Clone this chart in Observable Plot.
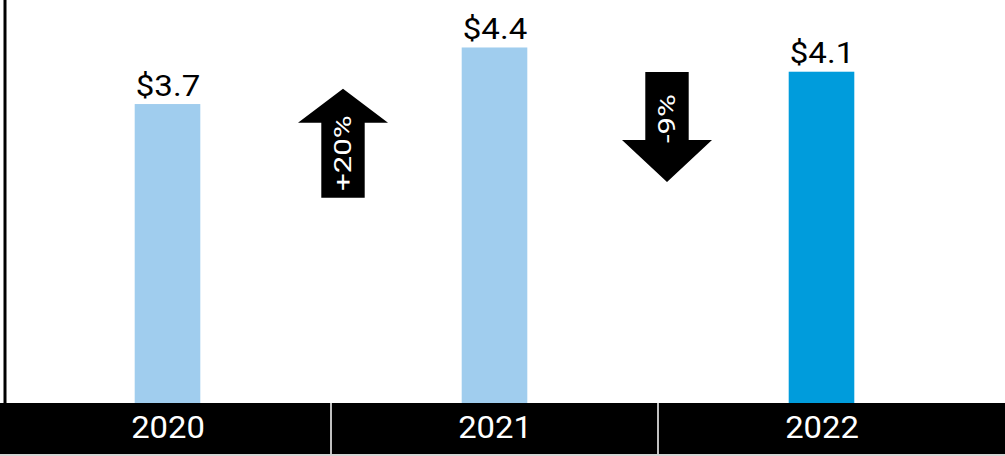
<!DOCTYPE html>
<html>
<head>
<meta charset="utf-8">
<script src="https://cdn.jsdelivr.net/npm/d3@7"></script>
<script src="https://cdn.jsdelivr.net/npm/@observablehq/plot@0.6"></script>
<style>
  html, body { margin: 0; padding: 0; background: #ffffff; }
  #chart svg { display: block; }
</style>
</head>
<body>
<div id="chart"></div>
<script>
// ---- data ----
const years = ["2020", "2021", "2022"];
const values = [3.7, 4.4, 4.1];
const valueLabels = ["$3.7", "$4.4", "$4.1"];
const barColors = ["#a0cdee", "#a0cdee", "#009cdc"];
const changeLabels = ["+20%", "-9%"];
const changeFrom = ["2020", "2021"];
const changeTo = ["2021", "2022"];

// ---- tables built from the arrays ----
const bars = years.map((year, i) => ({year, value: values[i], label: valueLabels[i], color: barColors[i]}));
const changes = changeLabels.map((label, i) => {
  const a = values[years.indexOf(changeFrom[i])];
  const b = values[years.indexOf(changeTo[i])];
  return {label, to: changeTo[i], mid: (a + b) / 2, up: b > a};
});
const ups = changes.filter(d => d.up);
const downs = changes.filter(d => !d.up);

// block arrow shape for Plot.vector (points toward -y before rotation)
const blockArrow = (head) => ({
  draw(c, l) {
    const s = 21.7, w = 45;
    c.moveTo(-s, 0);
    c.lineTo(-s, -l + head);
    c.lineTo(-w, -l + head);
    c.lineTo(0, -l);
    c.lineTo(w, -l + head);
    c.lineTo(s, -l + head);
    c.lineTo(s, 0);
    c.closePath();
  }
});

// black category band under the plot, with white dividers between categories
function categoryBand(index, scales, values, dims) {
  const g = d3.create("svg:g");
  const top = scales.y(0);
  const bottom = dims.height - 2;
  g.append("rect").attr("x", 0).attr("y", top).attr("width", dims.width).attr("height", bottom - top).attr("fill", "#000");
  g.append("rect").attr("x", 0).attr("y", bottom).attr("width", dims.width).attr("height", 2).attr("fill", "#d4d4d4");
  for (const y of years.slice(1)) {
    const x = scales.x(y);
    g.append("rect").attr("x", x - 0.75).attr("y", top).attr("width", 1.5).attr("height", bottom - top).attr("fill", "#fff");
  }
  return g.node();
}

const chart = Plot.plot({
  width: 1005,
  height: 456,
  marginTop: 0,
  marginRight: 0,
  marginBottom: 53,
  marginLeft: 0,
  style: {fontFamily: "Roboto", background: "#ffffff", overflow: "visible"},
  x: {type: "band", domain: years, range: [3.5, 985.7], padding: 0, axis: null},
  y: {domain: [0, 5], range: [403, -1], axis: null},
  marks: [
    categoryBand,
    Plot.barY(bars, {x: "year", y: "value", fill: "color", insetLeft: 130.7, insetRight: 130.7}),
    Plot.axisX(years, {anchor: "bottom", tickSize: 0, tickPadding: 12, fill: "#ffffff", fontSize: 31.5, fontFamily: "Roboto", label: null}),
    Plot.text(bars, {x: "year", y: "value", text: "label", lineAnchor: "bottom", dy: -9, fontSize: 30, fontFamily: "Roboto", fill: "#000"}),
    Plot.frame({anchor: "left", stroke: "#000", strokeWidth: 3, dx: 4.5}),
    Plot.vector(ups, {x: "to", y: "mid", dx: -152, dy: 67, length: 109, rotate: 0, anchor: "middle", shape: blockArrow(34), fill: "#000", stroke: "none"}),
    Plot.vector(downs, {x: "to", y: "mid", dx: -155, dy: 67, length: 110, rotate: 180, anchor: "middle", shape: blockArrow(42), fill: "#000", stroke: "none"}),
    Plot.text(ups, {x: "to", y: "mid", text: "label", rotate: -90, dx: -152, dy: 77, fontSize: 24, fontFamily: "Roboto", fill: "#fff"}),
    Plot.text(downs, {x: "to", y: "mid", text: "label", rotate: -90, dx: -155, dy: 58.5, fontSize: 24, fontFamily: "Roboto", fill: "#fff"})
  ]
});

document.getElementById("chart").appendChild(chart);

// widen glyphs to match the reference's stretched lettering
const stretch = (labels, factor) => {
  d3.select(chart).selectAll("text").each(function () {
    if (labels.includes(this.textContent)) {
      const len = this.getComputedTextLength();
      this.setAttribute("textLength", (len * factor).toFixed(1));
      this.setAttribute("lengthAdjust", "spacingAndGlyphs");
    }
  });
};
stretch(valueLabels, 1.1);
stretch(years, 1.04);
stretch(changeLabels, 1.3);
</script>
</body>
</html>
